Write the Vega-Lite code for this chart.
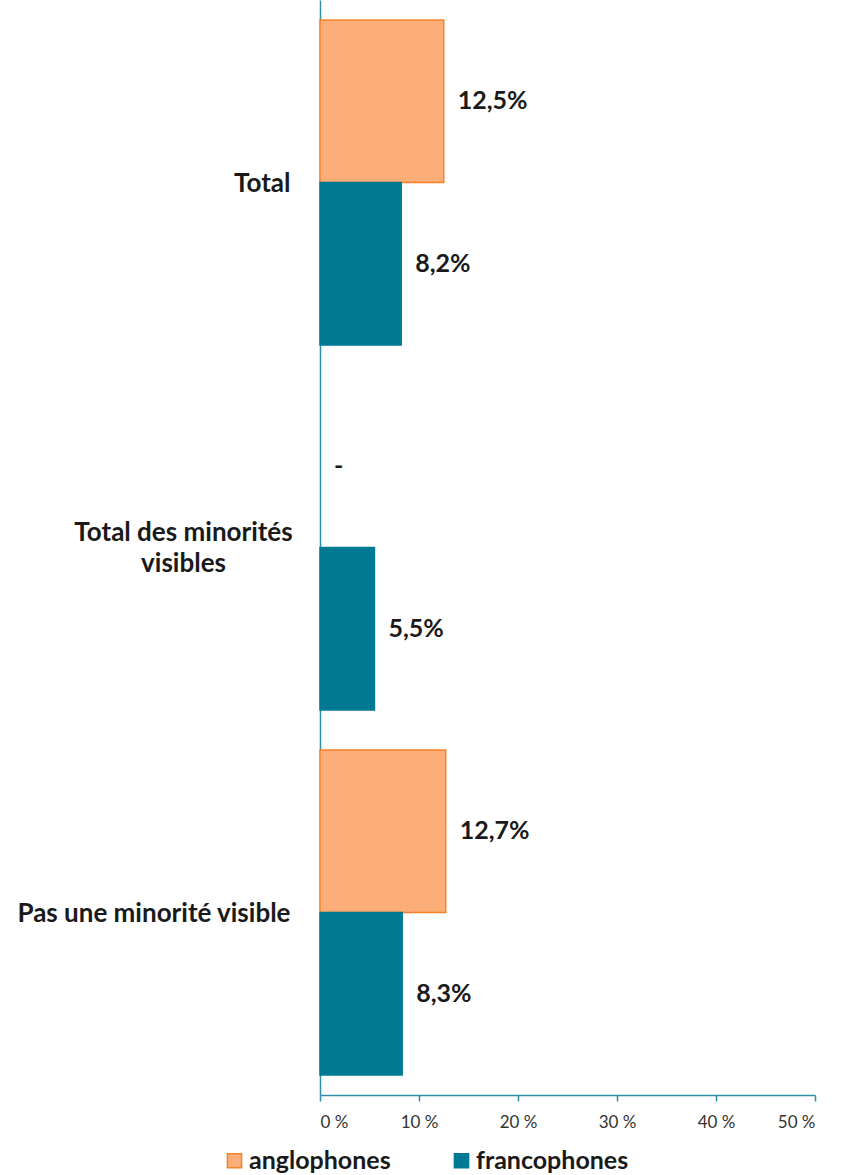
{
  "$schema": "https://vega.github.io/schema/vega-lite/v6.json",
  "width": 495,
  "height": 1095,
  "autosize": {"type": "none"},
  "padding": {"left": 320, "top": 0, "right": 27, "bottom": 80},
  "background": "white",
  "config": {"view": {"stroke": null}, "font": "Lato"},
  "data": {
    "values": [
      {"cat": "Total", "series": "anglophones", "value": 12.5, "label": "12,5%"},
      {"cat": "Total", "series": "francophones", "value": 8.2, "label": "8,2%"},
      {"cat": "Total des minorités visibles", "series": "anglophones", "value": 0, "label": "-"},
      {"cat": "Total des minorités visibles", "series": "francophones", "value": 5.5, "label": "5,5%"},
      {"cat": "Pas une minorité visible", "series": "anglophones", "value": 12.7, "label": "12,7%"},
      {"cat": "Pas une minorité visible", "series": "francophones", "value": 8.3, "label": "8,3%"}
    ]
  },
  "encoding": {
    "y": {
      "field": "cat",
      "type": "nominal",
      "sort": ["Total", "Total des minorités visibles", "Pas une minorité visible"],
      "title": null,
      "scale": {"paddingInner": 0.11, "paddingOuter": 0.055},
      "axis": {
        "domainColor": "#2E8FA5",
        "domainWidth": 1.5,
        "ticks": false,
        "labelFontSize": 26,
        "labelFontWeight": "bold",
        "labelColor": "#1a1a1a",
        "labelLimit": 400,
        "labelExpr": "datum.value == 'Total des minorités visibles' ? ['Total des minorités', 'visibles'] : datum.value",
        "labelAlign": {"condition": {"test": "datum.value == 'Total des minorités visibles'", "value": "center"}, "value": "right"},
        "labelPadding": {"condition": {"test": "datum.value == 'Total des minorités visibles'", "value": 137}, "value": 30},
        "labelOffset": {"condition": {"test": "datum.value == 'Total des minorités visibles'", "value": -15}, "value": 1},
        "labelLineHeight": 31
      }
    },
    "yOffset": {"field": "series", "sort": ["anglophones", "francophones"], "scale": {"paddingInner": 0}},
    "x": {
      "field": "value",
      "type": "quantitative",
      "scale": {"domain": [0, 50]},
      "title": null,
      "axis": {
        "values": [0, 10, 20, 30, 40, 50],
        "labelExpr": "datum.value + ' %'",
        "grid": false,
        "domainColor": "#2E8FA5",
        "domainWidth": 1.5,
        "tickColor": "#2E8FA5",
        "tickWidth": 1.5,
        "tickSize": 6,
        "labelFontSize": 17,
        "labelColor": "#333333",
        "labelPadding": 13
      }
    }
  },
  "layer": [
    {
      "transform": [{"filter": "datum.value > 0"}],
      "mark": {"type": "bar", "strokeWidth": 1.5},
      "encoding": {
        "fill": {
          "field": "series",
          "type": "nominal",
          "scale": {"domain": ["anglophones", "francophones"], "range": ["#FCAE78", "#007A94"]},
          "legend": {
            "title": null,
            "orient": "none",
            "legendX": -98,
            "legendY": 1148,
            "direction": "horizontal",
            "symbolType": "square",
            "symbolSize": 200,
            "symbolStrokeWidth": 1.5,
            "labelFontSize": 25,
            "labelFontWeight": "bold",
            "labelColor": "#1a1a1a",
            "columnPadding": 58,
            "labelOffset": 2
          }
        },
        "stroke": {
          "field": "series",
          "type": "nominal",
          "scale": {"domain": ["anglophones", "francophones"], "range": ["#F5822A", "#007A94"]}
        }
      }
    },
    {
      "mark": {"type": "text", "align": "left", "baseline": "middle", "dx": 14, "fontSize": 25, "fontWeight": "bold", "color": "#1a1a1a"},
      "encoding": {"text": {"field": "label"}}
    }
  ]
}
